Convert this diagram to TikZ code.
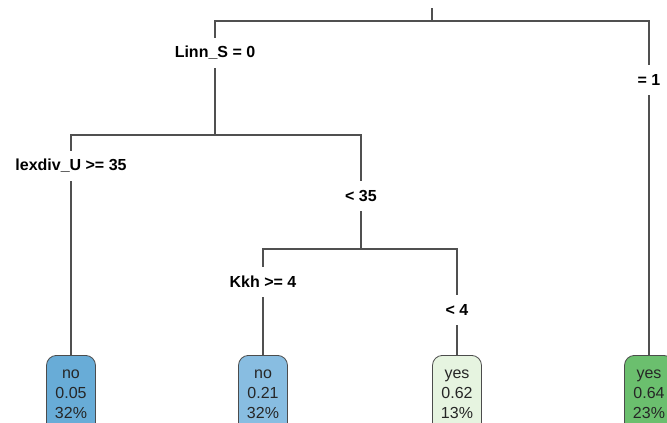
\documentclass[tikz,border=0pt]{standalone}
\usepackage{fontspec}
\setmainfont{Liberation Sans}
\definecolor{leafblue}{HTML}{68ACD7}
\definecolor{leaflightblue}{HTML}{88BDE1}
\definecolor{leafpale}{HTML}{E6F4E0}
\definecolor{leafgreen}{HTML}{6BBF6E}
\definecolor{edgegray}{HTML}{505050}
\tikzset{
  split/.style={font=\fontsize{16}{20}\selectfont\bfseries, minimum height=30pt, inner xsep=0pt},
  leaf/.style={draw=black!70, line width=0.8pt, rounded corners=10pt, anchor=north,
    font=\fontsize{16}{20}\selectfont, text=black!85, align=center,
    minimum width=49pt, inner xsep=2pt, inner ysep=4pt, text height=58.7pt, text depth=20pt},
}
\begin{document}
\begin{tikzpicture}[x=1pt,y=-1pt]
      \useasboundingbox (0,0) rectangle (667,423);
      \coordinate (top) at (432,8);
      \coordinate (split1) at (432,21);
      \coordinate (split2) at (215,135);
      \coordinate (split3) at (361,249);
      \draw
        (215,53) node[split] (linn){Linn\_S = 0}
        (649,80) node[split] (eq1){= 1}
        (71,166) node[split] (lexdiv){lexdiv\_U >= 35}
        (361,196) node[split] (lt35){< 35}
        (263,282) node[split] (kkh){Kkh >= 4}
        (457,310) node[split] (lt4){< 4};
      \node[leaf, fill=leafblue] (leaf1) at (71,355) {no\\0.05\\32\%};
      \node[leaf, fill=leaflightblue] (leaf2) at (263,355) {no\\0.21\\32\%};
      \node[leaf, fill=leafpale] (leaf3) at (457,355) {yes\\0.62\\13\%};
      \node[leaf, fill=leafgreen] (leaf4) at (649,355) {yes\\0.64\\23\%};
      \begin{scope}[edgegray, line width=1.2pt]
        \draw (top) to (split1);
        \draw (linn.north) |- (split1) -| (eq1.north);
        \draw (linn.south) to (split2);
        \draw (lexdiv.north) |- (split2) -| (lt35.north);
        \draw (lt35.south) to (split3);
        \draw (kkh.north) |- (split3) -| (lt4.north);
        \draw (lexdiv.south) to (leaf1.north);
        \draw (kkh.south) to (leaf2.north);
        \draw (lt4.south) to (leaf3.north);
        \draw (eq1.south) to (leaf4.north);
      \end{scope}
    \end{tikzpicture}
\end{document}
